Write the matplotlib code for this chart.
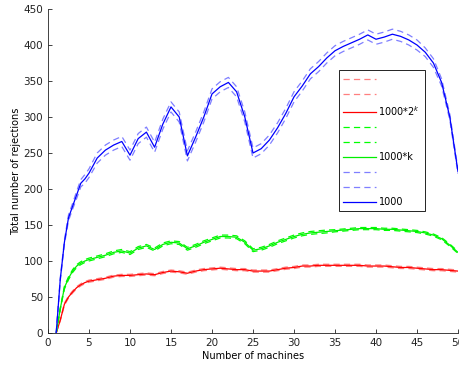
import matplotlib
matplotlib.use("Agg")
import matplotlib.pyplot as plt

plt.rcParams['lines.scale_dashes'] = False

machines = [1, 1.5, 2, 2.5, 3, 3.5, 4, 4.5] + list(range(5, 51))

blue_mean = [0, 75, 126, 160, 176, 192, 208, 214,
             222, 243, 254, 261, 266, 247, 270, 279, 258, 290,
             314, 300, 246, 272, 300, 332, 342, 348, 335, 300,
             250, 256, 268, 285, 305, 328, 343, 360, 370, 382,
             392, 398, 403, 408, 414, 408, 411, 415, 412, 407,
             400, 390, 375, 348, 300, 224]
blue_hw = [0, 2, 3, 4, 4, 5, 5, 6,
           6, 7, 7, 7, 7, 7, 7, 7, 7, 7,
           7, 7, 7, 7, 7, 7, 7, 7, 7, 7,
           7, 7, 7, 7, 7, 7, 7, 7, 7, 7,
           7, 7, 7, 7, 7, 7, 7, 7, 7, 7,
           7, 6, 6, 5, 4, 3]

green_mean = [0, 34, 63, 76, 86, 93, 97, 100,
              102, 105, 108, 112, 114, 111, 118, 121, 116, 123,
              126, 125, 117, 121, 126, 130, 134, 134, 133, 126,
              115, 117, 121, 126, 130, 134, 137, 139, 140, 141,
              142, 143, 144, 145, 145, 145, 144, 144, 143, 142,
              141, 139, 136, 131, 122, 112]
green_hw = [0, 1, 2, 2, 2, 2, 2, 2,
            2, 2, 2, 2, 2, 2, 2, 2, 2, 2,
            2, 2, 2, 2, 2, 2, 2, 2, 2, 2,
            2, 2, 2, 2, 2, 2, 2, 2, 2, 2,
            1.5, 1.5, 1.5, 1.5, 1.5, 1.5, 1.5, 1.5, 1.5, 1.5,
            1.5, 1.5, 1.5, 1.5, 1.5, 1.5]

red_mean = [0, 18, 40, 50, 57, 63, 67, 70,
            72, 74, 76, 79, 80, 80, 81, 82, 81, 84,
            86, 85, 83, 86, 88, 89, 90, 89, 88, 88,
            86, 86, 86, 88, 90, 91, 93, 93, 94, 94,
            94, 94, 94, 94, 93, 93, 93, 92, 91, 91,
            90, 89, 88, 88, 87, 86]
red_hw = [0, 1, 1.5, 1.5, 1.5, 1.5, 1.5, 1.5] + [1.5] * 46

labels = ["", "", "1000*2$^k$", "", "", "1000*k", "", "", "1000"]

series = [
    (red_mean, red_hw, '#ff0000', '#ff7f7f'),
    (green_mean, green_hw, '#00ee00', '#00ff00'),
    (blue_mean, blue_hw, '#0000ff', '#7f7fff'),
]

fig = plt.figure(figsize=(4.59, 3.65), dpi=100)
ax = fig.add_axes([48/459, 1 - 333/365, 410/459, 324/365])

dash = (4.5, 3)
handles = []
for mean, hw, c_solid, c_dash in series:
    upper = [m + h for m, h in zip(mean, hw)]
    lower = [m - h for m, h in zip(mean, hw)]
    h1, = ax.plot(machines, upper, color=c_dash, lw=0.9, dashes=dash)
    h2, = ax.plot(machines, lower, color=c_dash, lw=0.9, dashes=dash)
    h3, = ax.plot(machines, mean, color=c_solid, lw=0.9)
    handles += [h1, h2, h3]

ax.set_xlim(0, 50)
ax.set_ylim(0, 450)
ax.set_xticks(range(0, 51, 5))
ax.set_yticks(range(0, 451, 50))
ax.tick_params(direction='in', length=3, labelsize=7.5, width=0.6, colors='#222222')
for s in ['top', 'right']:
    ax.spines[s].set_visible(False)
for s in ['left', 'bottom']:
    ax.spines[s].set_linewidth(0.6)
    ax.spines[s].set_color('#222222')
ax.set_xlabel('Number of machines', fontsize=7, labelpad=2)
ax.set_ylabel('Total number of rejections', fontsize=7, labelpad=2)

leg = ax.legend(handles, labels, loc='upper left', bbox_to_anchor=(0.71, 0.812),
                fontsize=7, handlelength=3.3, handletextpad=0.3, labelspacing=0.5,
                frameon=True, fancybox=False, framealpha=1, borderpad=0.45,
                borderaxespad=0)
leg.get_frame().set_edgecolor('black')
leg.get_frame().set_linewidth(0.6)

fig.savefig('out.png', dpi=100)
